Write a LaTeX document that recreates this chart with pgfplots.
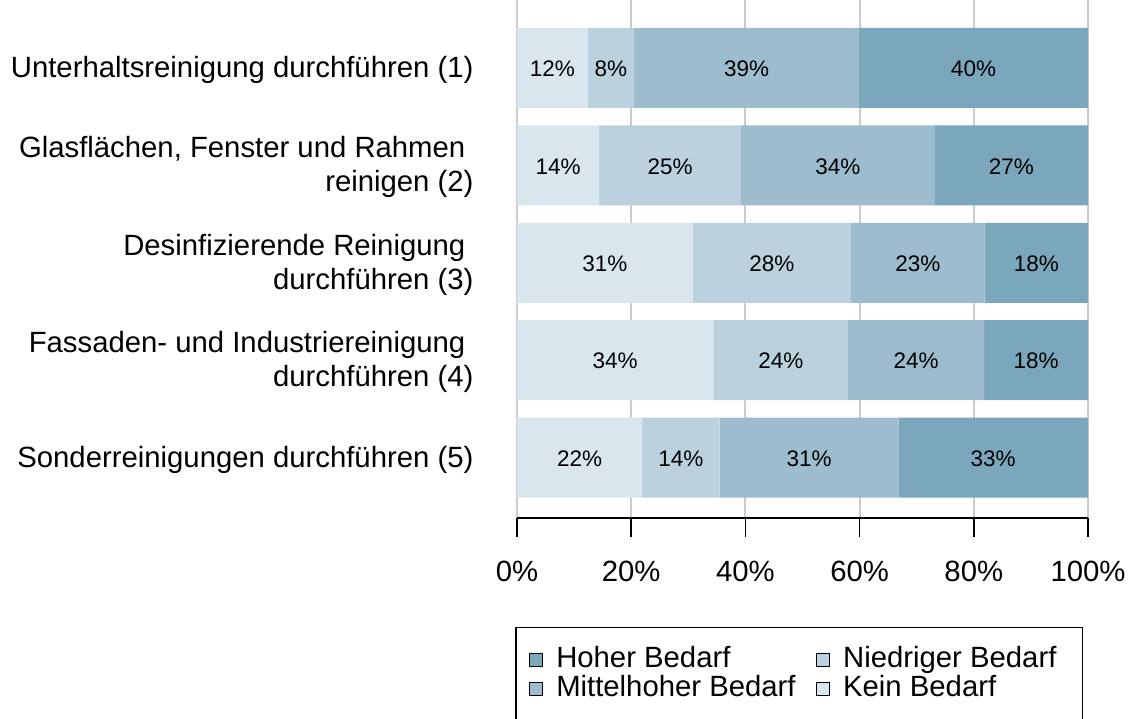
\documentclass[border=0pt]{standalone}
\usepackage{pgfplots}
\pgfplotsset{compat=1.18}
\usepackage{pgfplotstable}
\usepackage{fontspec}
\setmainfont{Liberation Sans}
\definecolor{kein}{RGB}{217,230,238}
\definecolor{nied}{RGB}{187,210,222}
\definecolor{mittel}{RGB}{157,188,205}
\definecolor{hoch}{RGB}{123,167,188}
\definecolor{gridc}{RGB}{204,204,204}

\pgfplotstableread{
y kein nied mittel hoch
5 12.4 8.1 39.4 40.1
4 14.4 24.8 34.0 26.8
3 30.8 27.7 23.4 18.1
2 34.4 23.6 23.8 18.2
1 21.9 13.6 31.3 33.2
}\datatable

\newcommand\bigf{\fontsize{29.3}{34}\selectfont}
\newcommand\smallf{\fontsize{22.5}{27}\selectfont}
\pgfplotsset{sq/.style={legend image code/.code={\draw[overlay,fill=#1,draw=black,line width=1.2pt] (-11pt,-6.5pt) rectangle (2pt,6.5pt); \path (0pt,0pt) (13pt,0pt);}}}

\begin{document}
\begin{tikzpicture}
\begin{axis}[
  scale only axis, width=571pt, height=518pt,
  xbar stacked, bar width=80pt,
  xmin=0, xmax=100, ymin=0.379, ymax=5.698,
  axis x line*=bottom, axis y line*=left,
  y axis line style={draw=none},
  x axis line style={black, line width=1.5pt, -},
  xtick={0,20,...,100}, xticklabels={0\%,20\%,40\%,60\%,80\%,100\%},
  xmajorgrids, grid style={gridc, line width=2pt},
  tick align=outside, major tick length=19pt,
  xtick style={black, line width=1.5pt},
  ytick={1,...,5},
  yticklabels={{Sonderreinigungen durchführen (5)},
    {Fassaden- und Industriereinigung\hspace*{0.278em}\\durchführen (4)},
    {Desinfizierende Reinigung\hspace*{0.278em}\\durchführen (3)},
    {Glasflächen, Fenster und Rahmen\hspace*{0.278em}\\reinigen (2)},
    {Unterhaltsreinigung durchführen (1)}},
  ytick style={draw=none},
  yticklabel style={align=right, font=\bigf, xshift=-21pt, yshift=-2pt},
  xticklabel style={font=\bigf, yshift=-21pt},
  /pgf/number format/assume math mode=true,
  point meta=explicit,
  nodes near coords={\pgfmathprintnumber[fixed,precision=0]{\pgfplotspointmeta}\%},
  every node near coord/.style={anchor=center, font=\smallf, text=black, yshift=-1pt},
  legend columns=2,
  legend cell align=left,
  legend style={at={(-0.0035,-0.2104)}, anchor=north west, draw=black, line width=1.5pt,
    font=\bigf, inner xsep=24pt, inner ysep=18pt,
    nodes={inner sep=2pt, text height=19.5pt, text depth=5.5pt},
    /tikz/every even column/.append style={column sep=29pt}},
]
\addplot[fill=kein, draw=none, forget plot] table[x=kein, y=y, meta=kein]{\datatable};
\addplot[fill=nied, draw=none, forget plot] table[x=nied, y=y, meta=nied]{\datatable};
\addplot[fill=mittel, draw=none, forget plot] table[x=mittel, y=y, meta=mittel]{\datatable};
\addplot[fill=hoch, draw=none, forget plot] table[x=hoch, y=y, meta=hoch]{\datatable};
\addlegendimage{sq=hoch}\addlegendentry{Hoher Bedarf}
\addlegendimage{sq=nied}\addlegendentry{Niedriger Bedarf}
\addlegendimage{sq=mittel}\addlegendentry{Mittelhoher Bedarf}
\addlegendimage{sq=kein}\addlegendentry{Kein Bedarf}
\coordinate (O) at (rel axis cs:0,0);
\end{axis}
\pgfresetboundingbox
\path (O) ++(-517pt,-200pt) rectangle ++(1131pt,718pt);
\end{tikzpicture}
\end{document}
